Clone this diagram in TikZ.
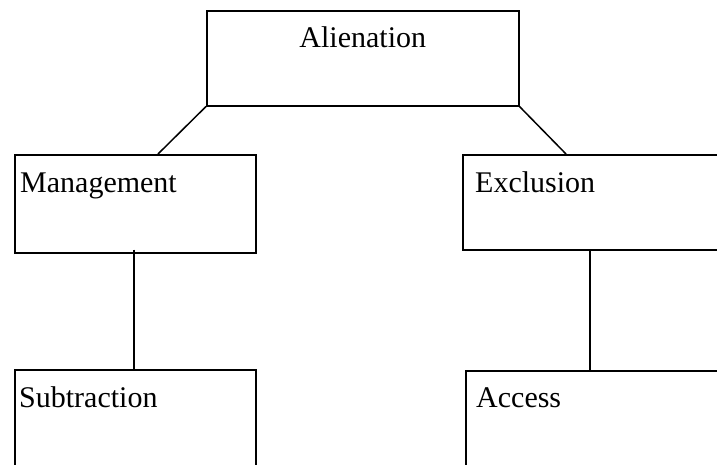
\documentclass[tikz,border=0pt]{standalone}
\usepackage{fontspec}
\setmainfont{Liberation Serif}
\begin{document}
\begin{tikzpicture}[x=1pt, y=1pt,
    every node/.style={font=\fontsize{30}{36}\selectfont},
    box/.style={draw, line width=1.5pt, inner sep=0pt, anchor=north west},
    boxtext/.style={anchor=base west, inner sep=0pt},
    link/.style={line width=1.5pt}]
  \useasboundingbox (0,0) rectangle (717,-464);
  \clip (0,0) rectangle (717,-464);

  % Top level
  \node[box, minimum width=312pt, minimum height=95pt] (alien) at (206,-10) {};
  \node[anchor=base, inner sep=0pt] (alientext) at ([yshift=-37pt]alien.north) {Alienation};

  % Second level
  \node[box, minimum width=241pt, minimum height=98pt] (mgmt) at (14,-154) {};
  \node[boxtext] (mgmttext) at ([shift={(6pt,-38pt)}]mgmt.north west) {Management};
  \node[box, minimum width=270pt, minimum height=95pt] (excl) at (462,-154) {};
  \node[boxtext] (excltext) at ([shift={(13pt,-38pt)}]excl.north west) {Exclusion};

  % Third level
  \node[box, minimum width=241pt, minimum height=98pt] (sub) at (14,-369) {};
  \node[boxtext] (subtext) at ([shift={(5pt,-38pt)}]sub.north west) {Subtraction};
  \node[box, minimum width=270pt, minimum height=98pt] (acc) at (465,-370) {};
  \node[boxtext] (acctext) at ([shift={(11pt,-37pt)}]acc.north west) {Access};

  % Connectors
  \coordinate (mgmtin) at ([xshift=144pt]mgmt.north west);
  \coordinate (exclin) at ([xshift=104pt]excl.north west);
  \coordinate (mgmtout) at ([shift={(120pt,4pt)}]mgmt.south west);
  \coordinate (subin) at ([xshift=120pt]sub.north west);
  \coordinate (exclout) at ([xshift=128pt]excl.south west);
  \coordinate (accin) at ([xshift=125pt]acc.north west);
  \draw[link] (alien.south west) -- (mgmtin);
  \draw[link] (alien.south east) -- (exclin);
  \draw[link] (mgmtout) -- (subin);
  \draw[link] (exclout) -- (accin);
\end{tikzpicture}
\end{document}
